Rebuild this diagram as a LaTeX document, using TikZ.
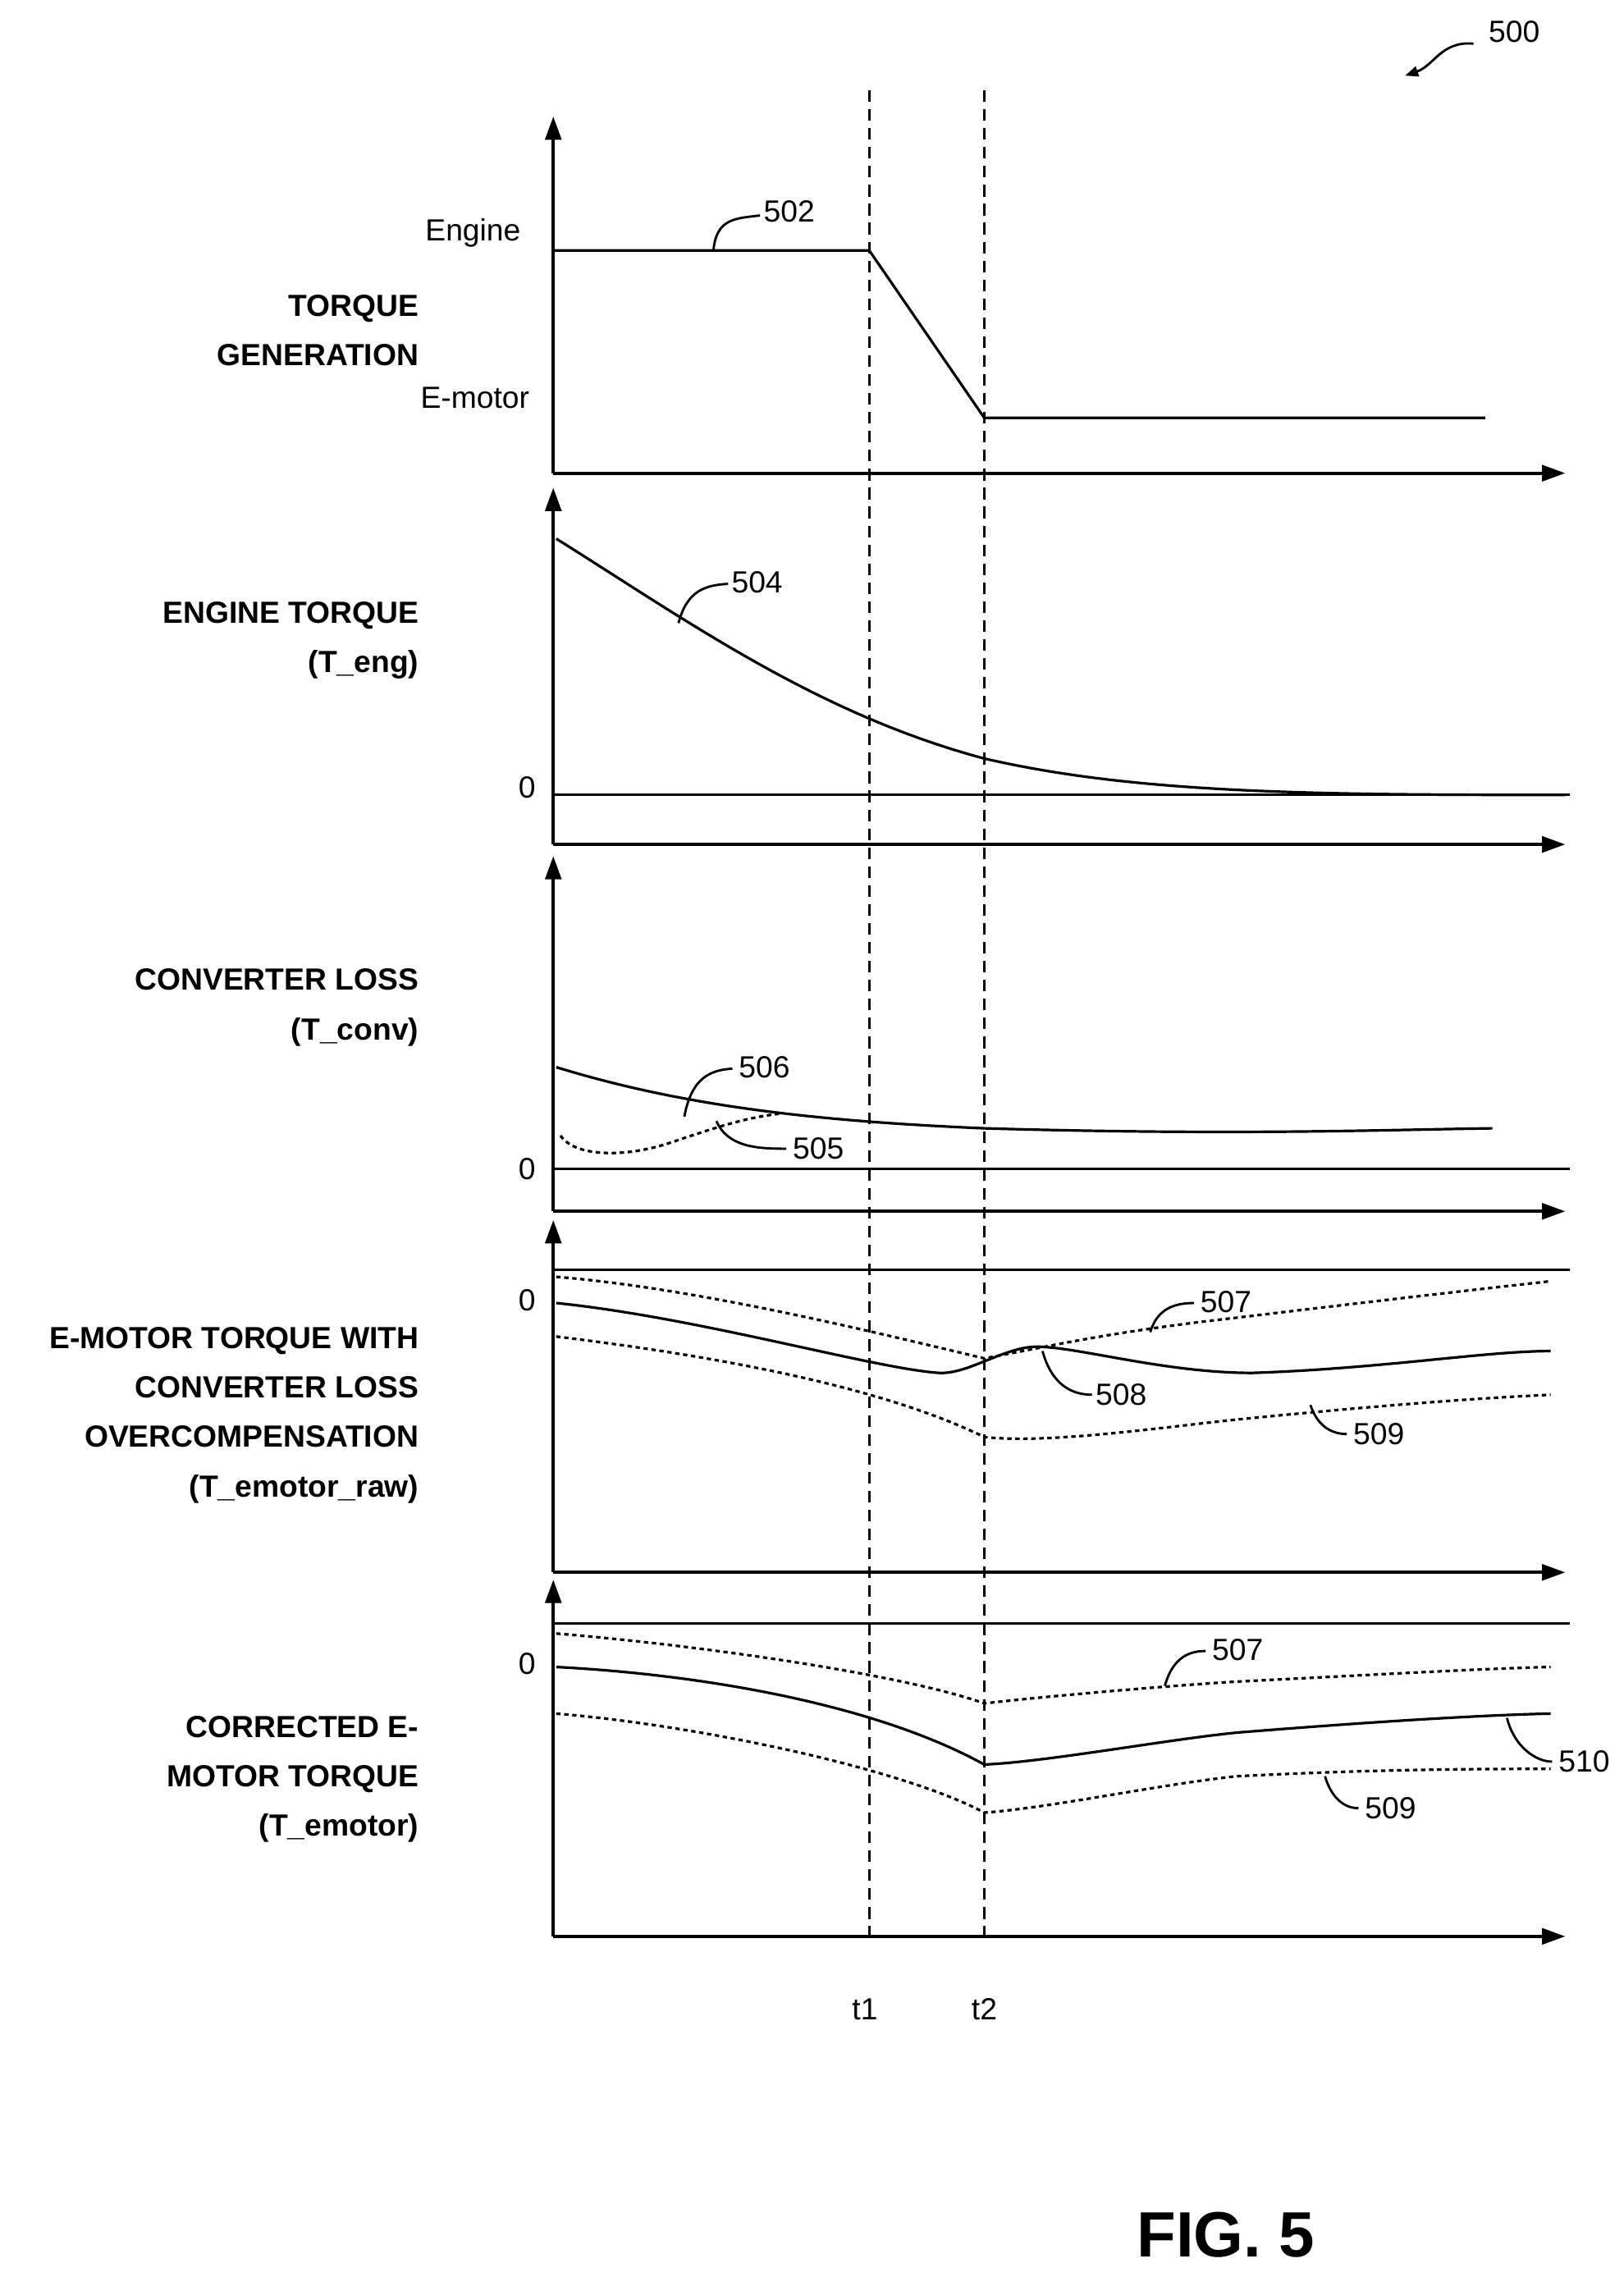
\documentclass[tikz,border=0pt]{standalone}
\usepackage{fontspec}
\setmainfont{Liberation Sans}
\usetikzlibrary{arrows.meta}
\begin{document}
\begin{tikzpicture}[x=1pt,y=-1pt,line width=2.2pt,
 ax/.style={-{Triangle[length=16pt,width=11pt]}},
 crv/.style={line width=1.8pt},
 dsh/.style={crv,dash pattern=on 3pt off 2.5pt},
 vd/.style={line width=1.8pt,dash pattern=on 8pt off 5pt},
 lead/.style={line width=1.6pt},
 lbl/.style={font=\fontsize{21}{24}\selectfont},
 cat/.style={font=\fontsize{21}{34}\selectfont\bfseries,align=right,anchor=east}]
\useasboundingbox (0,0) rectangle (1115,1564);
% axes
\foreach \t/\b in {80/325,335/580,588/832,838/1080,1085/1330}{
 \draw[ax] (380,\b) -- (380,\t);
 \draw[ax] (380,\b) -- (1075,\b);}
\draw[crv] (380,546) -- (1078,546);
\draw[crv] (380,803) -- (1078,803);
\draw[crv] (380,872) -- (1078,872);
\draw[crv] (380,1115) -- (1078,1115);
% verticals
\draw[vd] (597,62) -- (597,1330);
\draw[vd] (676,62) -- (676,1330);
\node[lbl] (t1) at (594,1380) {t1};
\node[lbl] (t2) at (676,1380) {t2};
% 500
\node[lbl] (n500) at (1040,22) {500};
\coordinate (a500) at (965,52);
\draw[lead,-{Triangle[length=9pt,width=7pt]}] (1012,30) .. controls (990,28) and (985,45) .. (a500);
% panel 1
\node[lbl,anchor=east] (eng) at (362,160) {Engine};
\node[lbl,anchor=east] (emo) at (368,273) {E-motor};
\node[cat] (c1) at (292,227) {TORQUE\\GENERATION};
\draw[crv] (380,172) -- (597,172) -- (676,287) -- (1020,287);
\node[lbl] (l502) at (542,145) {502};
\draw[lead] (490,172) .. controls (492,150) and (505,150) .. (522,148);
% panel 2
\node[cat] (c2) at (292,440) {ENGINE TORQUE\\(T\_eng)};
\draw[crv] (382,370) .. controls (470,425) and (560,490) .. (676,521) .. controls (780,545) and (900,546) .. (1075,546);
\node[lbl] (l504) at (520,400) {504};
\draw[lead] (466,428) .. controls (472,405) and (485,402) .. (500,401);
% panel 3
\node[lbl] (z1) at (362,541) {0};
\node[lbl] (z2) at (362,803) {0};
\node[lbl] (z3) at (362,893) {0};
\node[lbl] (z4) at (362,1143) {0};
\node[cat] (c3) at (292,692) {CONVERTER LOSS\\(T\_conv)};
\draw[crv] (382,733) .. controls (470,760) and (560,770) .. (676,775) .. controls (850,780) and (950,776) .. (1025,775);
\draw[dsh] (385,780) .. controls (395,795) and (430,795) .. (460,785) .. controls (490,775) and (510,768) .. (535,765);
\node[lbl] (l506) at (525,733) {506};
\draw[lead] (470,767) .. controls (475,740) and (488,735) .. (503,734);
\node[lbl] (l505) at (562,789) {505};
\draw[lead] (492,770) .. controls (500,788) and (520,789) .. (540,789);
% panel 4
\node[cat] (c4) at (292,972) {E-MOTOR TORQUE WITH\\CONVERTER LOSS\\OVERCOMPENSATION\\(T\_emotor\_raw)};
\draw[dsh] (382,877) .. controls (480,885) and (600,915) .. (676,933) .. controls (720,925) and (760,915) .. (850,905) .. controls (950,893) and (1020,885) .. (1065,880);
\draw[crv] (382,895) .. controls (480,905) and (600,940) .. (645,943) .. controls (665,944) and (690,925) .. (712,925) .. controls (740,925) and (800,943) .. (860,943) .. controls (950,940) and (1020,928) .. (1065,928);
\draw[dsh] (382,918) .. controls (480,930) and (600,950) .. (676,987) .. controls (720,992) and (800,980) .. (850,975) .. controls (950,965) and (1020,960) .. (1065,958);
\node[lbl] (l507a) at (842,894) {507};
\draw[lead] (790,915) .. controls (795,898) and (808,895) .. (820,895);
\node[lbl] (l508) at (770,958) {508};
\draw[lead] (716,928) .. controls (722,950) and (735,958) .. (750,958);
\node[lbl] (l509a) at (947,985) {509};
\draw[lead] (900,965) .. controls (905,980) and (915,985) .. (925,985);
% panel 5
\node[cat] (c5) at (292,1222) {CORRECTED E-\\MOTOR TORQUE\\(T\_emotor)};
\draw[dsh] (382,1122) .. controls (480,1130) and (620,1150) .. (676,1170) .. controls (720,1165) and (800,1158) .. (850,1155) .. controls (950,1150) and (1020,1146) .. (1065,1145);
\draw[crv] (382,1145) .. controls (480,1150) and (600,1170) .. (676,1212) .. controls (720,1210) and (800,1195) .. (850,1190) .. controls (950,1182) and (1020,1178) .. (1065,1177);
\draw[dsh] (382,1177) .. controls (480,1185) and (620,1215) .. (676,1245) .. controls (720,1242) and (800,1225) .. (850,1220) .. controls (950,1215) and (1020,1215) .. (1065,1215);
\node[lbl] (l507b) at (850,1133) {507};
\draw[lead] (800,1158) .. controls (805,1140) and (815,1134) .. (828,1134);
\node[lbl] (l510) at (1088,1210) {510};
\draw[lead] (1035,1180) .. controls (1040,1200) and (1055,1210) .. (1066,1210);
\node[lbl] (l509b) at (955,1242) {509};
\draw[lead] (910,1220) .. controls (915,1237) and (925,1242) .. (933,1242);
% fig
\node[font=\fontsize{44}{50}\selectfont\bfseries] (fig) at (842,1535) {FIG. 5};
\end{tikzpicture}
\end{document}
